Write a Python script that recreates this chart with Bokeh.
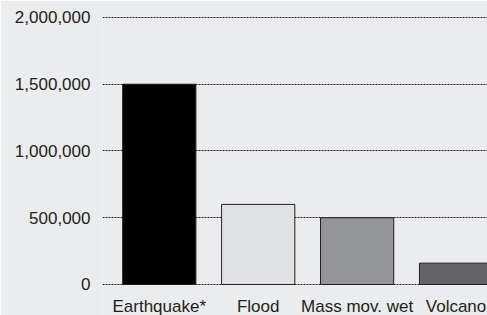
from bokeh.plotting import figure
from bokeh.models import ColumnDataSource, FixedTicker, NumeralTickFormatter, Range1d
from bokeh.embed import file_html
from bokeh.resources import INLINE

# Data
categories = ["Earthquake*", "Flood", "Mass mov. wet", "Volcano"]
deaths = [1500000, 600000, 500000, 160000]
y_ticks = [0, 500000, 1000000, 1500000, 2000000]

# Styles
bar_colors = ["#000000", "#e1e2e4", "#939598", "#636466"]
FONT = "Liberation Sans"
TEXT = "#231f20"
BG = "#ebeced"

x_pos = list(range(len(categories)))
source = ColumnDataSource(dict(x=x_pos, top=deaths, color=bar_colors))

p = figure(width=487, height=315, output_backend="svg", toolbar_location=None,
           x_range=Range1d(-0.574, 3.318), y_range=Range1d(-232210, 2007490),
           min_border_left=102, min_border_right=0, min_border_top=16, min_border_bottom=0)

p.background_fill_color = BG
p.border_fill_color = BG
p.outline_line_color = None

p.vbar(x="x", top="top", width=0.74, source=source, fill_color="color",
       line_color=TEXT, line_width=1)

# y axis
p.yaxis.ticker = FixedTicker(ticks=y_ticks)
p.yaxis.formatter = NumeralTickFormatter(format="0,0")
p.yaxis.axis_line_color = None
p.yaxis.major_tick_line_color = None
p.yaxis.minor_tick_line_color = None
p.yaxis.major_label_standoff = 6
p.yaxis.major_label_text_font = FONT
p.yaxis.major_label_text_font_size = "17px"
p.yaxis.major_label_text_color = TEXT

# x axis pinned at zero
p.xaxis.fixed_location = 0
p.xaxis.ticker = FixedTicker(ticks=x_pos)
p.xaxis.major_label_overrides = {i: c for i, c in zip(x_pos, categories)}
p.xaxis.axis_line_color = None
p.xaxis.major_tick_line_color = None
p.xaxis.minor_tick_line_color = None
p.xaxis.major_label_standoff = 7
p.xaxis.major_label_text_font = FONT
p.xaxis.major_label_text_font_size = "17px"
p.xaxis.major_label_text_color = TEXT

# grid
p.xgrid.grid_line_color = None
p.ygrid.ticker = FixedTicker(ticks=y_ticks)
p.ygrid.grid_line_color = "#231f20"
p.ygrid.grid_line_dash = "2 1"
p.ygrid.grid_line_width = 1

open("out.html", "w").write(file_html(p, INLINE))
